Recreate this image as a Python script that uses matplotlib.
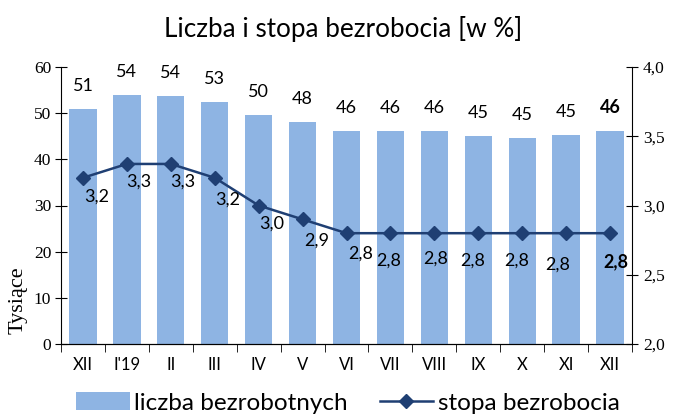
import matplotlib.pyplot as plt
import numpy as np
from matplotlib.lines import Line2D
from matplotlib.patches import Patch

months = ["XII", "I'19", "II", "III", "IV", "V", "VI", "VII", "VIII", "IX", "X", "XI", "XII"]
unemployed = [50.8, 53.9, 53.8, 52.4, 49.6, 48.0, 46.1, 46.05, 46.2, 44.97, 44.7, 45.2, 46.2]
unemployed_labels = ["51", "54", "54", "53", "50", "48", "46", "46", "46", "45", "45", "45", "46"]
rate = [3.2, 3.3, 3.3, 3.2, 3.0, 2.9, 2.8, 2.8, 2.8, 2.8, 2.8, 2.8, 2.8]
rate_labels = ["3,2", "3,3", "3,3", "3,2", "3,0", "2,9", "2,8", "2,8", "2,8", "2,8", "2,8", "2,8", "2,8"]

bar_color = "#8EB4E3"
line_color = "#1F3F73"
sans = "Lato"
serif = "Liberation Serif"

# pixel offsets of the rate labels (as placed in the original)
rate_offsets = [(14, -19), (12, -18), (12, -18), (13, -22), (13, -18), (14, -21), (14, -20),
                (-2, -27), (1, -25), (-6, -27), (-6, -27), (-8, -31), (6, -29)]

fig = plt.figure(figsize=(6.74, 4.16), dpi=100)
ax = fig.add_axes([61 / 674, 1 - 344 / 416, (632 - 61) / 674, (344 - 67) / 416])
x = np.arange(len(months))

ax.bar(x, unemployed, width=0.62, color=bar_color, zorder=2)
ax.set_xlim(-0.5, len(months) - 0.5)
ax.set_ylim(0, 60)
ax.set_yticks(np.arange(0, 61, 10))
ax.set_yticklabels([str(v) for v in range(0, 61, 10)], fontfamily=serif, fontsize=12.5)
ax.set_xticks(x)
ax.set_xticklabels(months, fontfamily=sans, fontsize=12)
ax.set_xticks(np.arange(-0.5, len(months)), minor=True)
ax.tick_params(axis="x", which="major", length=0, pad=9)
ax.tick_params(axis="x", which="minor", length=6, direction="out", color="black")
ax.tick_params(axis="y", direction="inout", length=8, pad=3)
for side in ["top", "right"]:
    ax.spines[side].set_visible(False)

for i, (v, lab) in enumerate(zip(unemployed, unemployed_labels)):
    ax.annotate(lab, (i, v), xytext=(0, 23), textcoords="offset pixels",
                ha="center", va="center", fontfamily=sans, fontsize=13,
                fontweight="bold" if i == len(months) - 1 else "normal")

ax2 = ax.twinx()
ax2.plot(x, rate, color=line_color, linewidth=1.8, marker="D", markersize=7, zorder=3)
ax2.set_ylim(2.0, 4.0)
ax2.set_yticks(np.arange(2.0, 4.01, 0.5))
ax2.set_yticklabels(["2,0", "2,5", "3,0", "3,5", "4,0"], fontfamily=serif, fontsize=12.5)
ax2.tick_params(axis="y", direction="inout", length=8, pad=4)
for side in ["top", "left"]:
    ax2.spines[side].set_visible(False)

for i, (v, lab) in enumerate(zip(rate, rate_labels)):
    ax2.annotate(lab, (i, v), xytext=rate_offsets[i], textcoords="offset pixels",
                 ha="center", va="center", fontfamily=sans, fontsize=13,
                 fontweight="bold" if i == len(months) - 1 else "normal")

fig.text(18 / 674, 1 - 300 / 416, "Tysiące", rotation=90, ha="center", va="center",
         fontfamily=serif, fontsize=16)
fig.text(343 / 674, 1 - 29 / 416, "Liczba i stopa bezrobocia [w %]", ha="center", va="center",
         fontfamily=sans, fontsize=18.8)

handles = [Patch(facecolor=bar_color, edgecolor="none"),
           Line2D([0], [0], color=line_color, linewidth=1.8, marker="D", markersize=7)]
fig.legend(handles, ["liczba bezrobotnych", "stopa bezrobocia"], loc="center",
           bbox_to_anchor=(348 / 674, 1 - 403 / 416), ncol=2, frameon=False,
           prop={"family": sans, "size": 17.5}, handlelength=2.2, handleheight=0.7,
           handletextpad=0.2, columnspacing=1.3, borderpad=0)

fig.savefig("out.png", dpi=100)
